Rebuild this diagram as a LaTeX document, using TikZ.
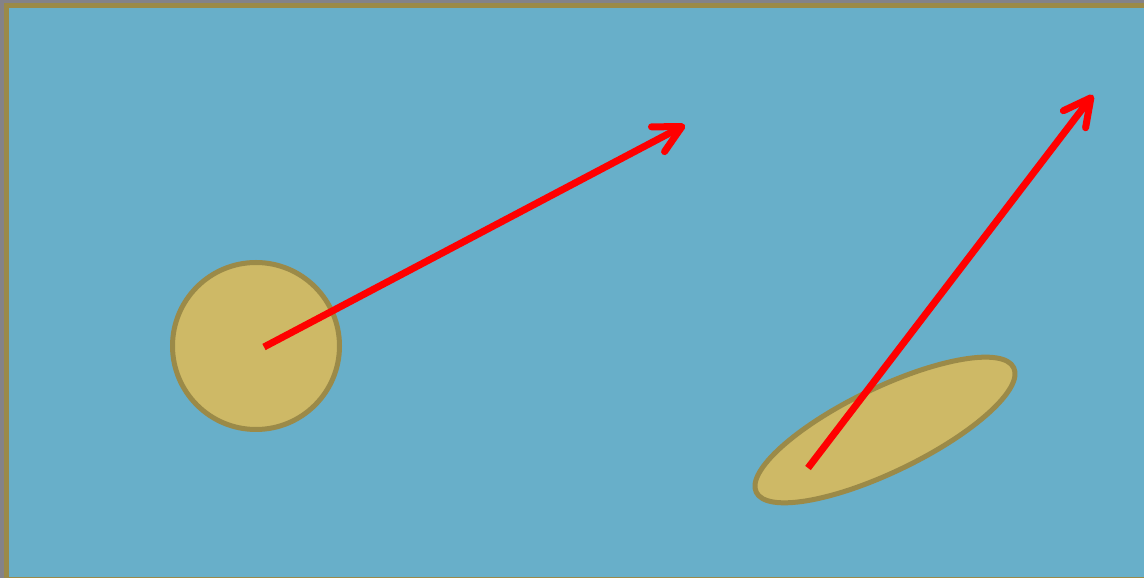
\documentclass[tikz,border=0pt]{standalone}
\usepackage{tikz}
\usetikzlibrary{arrows.meta,shapes.geometric}
\usepackage{xcolor}
\definecolor{seacol}{RGB}{104,175,201}
\definecolor{sandcol}{RGB}{206,185,102}
\definecolor{rimcol}{RGB}{155,138,72}
\definecolor{edgecol}{RGB}{132,130,136}

\begin{document}
\begin{tikzpicture}[x=1pt,y=1pt,
    blob/.style={draw=rimcol,fill=sandcol,line width=5pt,inner sep=0pt},
    vec/.style={red,line width=7pt,-{Straight Barb[round,length=27pt,width=28pt]}}]
  \useasboundingbox (0,0) rectangle (1144,578);
  \fill[edgecol](0,0) rectangle (1144,578);
  \begin{scope}
    \clip (0,0) rectangle (1144,578);
    \draw[rimcol,fill=seacol,line width=5pt](6.5,-2) rectangle (1152,572.5);
  \end{scope}
  \node[blob,circle,minimum size=167pt] (disc) at (256,232) {};
  \node[blob,ellipse,minimum width=286pt,minimum height=84pt,rotate=25.8]
    (slab) at (885,148) {};
  \coordinate (s1) at (264,231);
  \coordinate (t1) at (685,453);
  \coordinate (s2) at (808,110);
  \coordinate (t2) at (1093,483);
  \draw[vec](s1)--(t1);
  \draw[vec](s2)--(t2);
\end{tikzpicture}
\end{document}
